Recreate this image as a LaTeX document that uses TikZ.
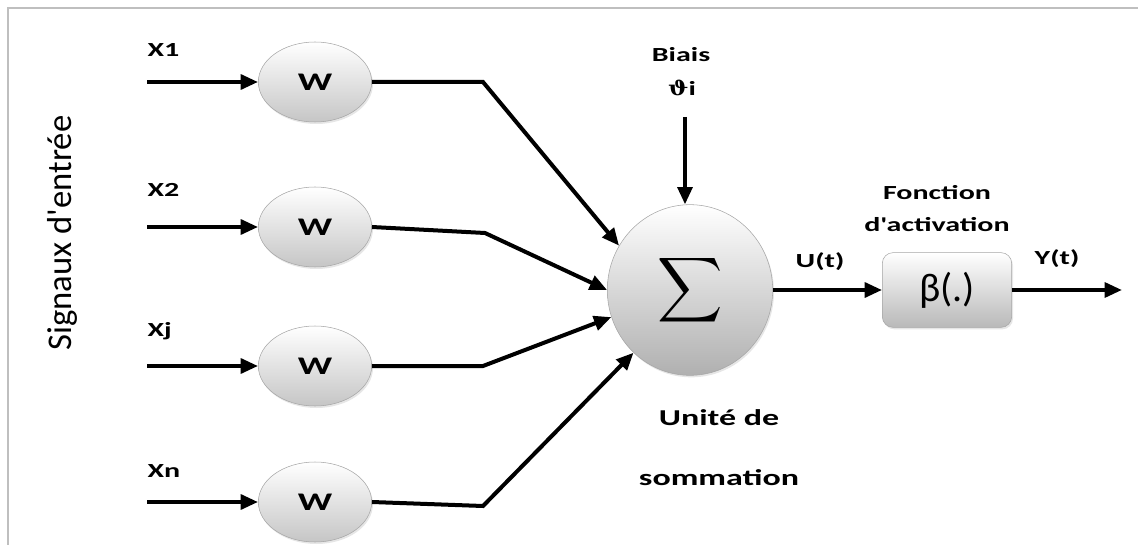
\documentclass[tikz,border=0pt]{standalone}
\usepackage{amsmath}
\usepackage{amssymb}
\usepackage{graphicx}
\usepackage{fontspec}
\usepackage{tikz}
\usetikzlibrary{arrows.meta,shapes,positioning,shapes.geometric,shadows}
\usepackage{xcolor}
\setmainfont{Carlito}[Ligatures=TeXOff]
\newfontfamily\widefont{Carlito}[FakeStretch=1.5,Ligatures=TeXOff]
\newfontfamily\thetafont{DejaVu Serif}[FakeStretch=1.2]
\tikzset{
lbl/.style = {inner sep=1pt, text=black, font=\widefont\bfseries\fontsize{15}{17}\selectfont},% etiquette
lbl_big/.style = {lbl, font=\widefont\bfseries\fontsize{17}{19}\selectfont},% etiquette, grande
nd_w/.style = {ellipse, draw=gray!70, thin, top color=white, bottom color=gray!45, minimum width=85pt, minimum height=60pt, inner sep=0pt,
font=\widefont\bfseries\fontsize{19}{20}\selectfont, drop shadow={opacity=0.2, shadow xshift=1pt, shadow yshift=-1.5pt}},% noeud poids
nd_sum/.style = {ellipse, draw=gray!70, thin, top color=white, bottom color=gray!62, minimum width=124pt, minimum height=128pt, inner sep=0pt,
drop shadow={opacity=0.2, shadow xshift=1pt, shadow yshift=-1.5pt}},% noeud somme
nd_act/.style = {rectangle, rounded corners=8pt, draw=gray!70, thin, top color=white, bottom color=gray!55, minimum width=97pt, minimum height=56pt,
font=\fontsize{30}{32}\selectfont, drop shadow={opacity=0.2, shadow xshift=1pt, shadow yshift=-1.5pt}},% noeud activation
ln/.style = {line width=3pt, line join=miter},% trait
fl/.style = {ln, -{Triangle[length=13pt,width=11pt]}}% fleche
}
\begin{document}
\begin{tikzpicture}[x=0.75pt,y=-0.75pt]
  \useasboundingbox (0,0) rectangle (1138,545);
  \draw[gray!50, line width=1.2pt] (1138,8) -- (8,8) -- (8,545);

  \node[nd_w] (w1) at (315,82) {W};
  \node[nd_w] (w2) at (315,227) {W};
  \node[nd_w] (w3) at (315,366) {W};
  \node[nd_w] (w4) at (315,502) {W};
  \node[nd_sum] (sum) at (690,290) {\raisebox{-6pt}{\scalebox{3.4}{$\displaystyle\sum$}}};
  \node[nd_act] (act) at (947,290) {β(.)};

  \node[lbl, anchor=west] (l_x1) at (146,50) {X1};
  \node[lbl, anchor=west] (l_x2) at (146,190) {X2};
  \node[lbl, anchor=west] (l_xj) at (146,331) {Xj};
  \node[lbl, anchor=west] (l_xn) at (146,471) {Xn};
  \node[rotate=90, font=\fontsize{26}{28}\selectfont] (l_sig) at (62,233) {Signaux d'entrée};

  \foreach \i in {1,...,4}
    \coordinate[left=83pt of w\i.west] (in\i);
  \coordinate (b1) at (483,82);
  \coordinate (b2) at (485,233);
  \coordinate (b3) at (483,366);
  \coordinate (b4) at (483,506);
  \coordinate (bias) at (685,117);
  \coordinate (out) at (1122,290);

  \foreach \i in {1,...,4}
    \draw[fl] (in\i) -- (w\i.west);
  \draw[fl] (w1.east) -- (b1) -- (sum.148);
  \draw[fl] (w2.east) -- (b2) -- (sum.180);
  \draw[fl] (w3.east) -- (b3) -- (sum.199);
  \draw[fl] (w4.east) -- (b4) -- (sum.228);
  \draw[fl] (bias) -- (bias |- sum.north);
  \draw[fl] (sum.east) -- (act.west);
  \draw[fl] (act.east) -- (out);

  \node[lbl] (l_biais) at (681,55) {Biais};
  \node[lbl] (l_theta) at (682,88) {{\thetafont\bfseries ϑ}i};
  \node[lbl] (l_u) at (820,262) {U(t)};
  \node[lbl] (l_f1) at (937,193) {Fonction};
  \node[lbl] (l_f2) at (937,225) {d'activation};
  \node[lbl] (l_y) at (1057,259) {Y(t)};
  \node[lbl_big] (l_s1) at (719,418) {Unité de};
  \node[lbl_big] (l_s2) at (719,478) {sommation};
\end{tikzpicture}
\end{document}
